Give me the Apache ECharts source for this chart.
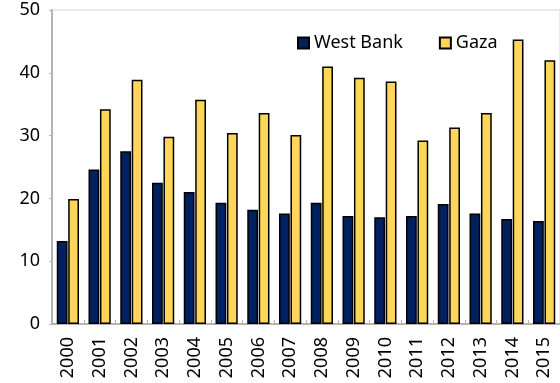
<!DOCTYPE html>
<html>
<head>
<meta charset="utf-8">
<script src="https://cdn.jsdelivr.net/npm/echarts@6/dist/echarts.min.js"></script>
<style>
  html, body { margin: 0; padding: 0; background: #fff; }
  #chart { width: 560px; height: 383px; }
</style>
</head>
<body>
<div id="chart"></div>
<script>
  // years on the x axis
  const years = ['2000', '2001', '2002', '2003', '2004', '2005', '2006', '2007',
    '2008', '2009', '2010', '2011', '2012', '2013', '2014', '2015'];
  // values
  const westBank = [13.2, 24.6, 27.5, 22.5, 21.0, 19.3, 18.2, 17.6,
    19.3, 17.2, 17.0, 17.2, 19.1, 17.6, 16.7, 16.4];
  const gaza = [19.9, 34.2, 38.9, 29.8, 35.7, 30.4, 33.6, 30.1,
    41.0, 39.2, 38.6, 29.2, 31.3, 33.6, 45.3, 42.0];
  const yTicks = [0, 10, 20, 30, 40, 50];

  const font = 'Noto Sans';
  const chart = echarts.init(document.getElementById('chart'));
  chart.setOption({
    animation: false,
    textStyle: { fontFamily: font },
    grid: {
      left: 52, right: 0, top: 10, bottom: 59,
      show: true, borderColor: '#d4d4d4', borderWidth: 1
    },
    legend: {
      top: 29, left: 292,
      icon: 'rect',
      itemWidth: 11, itemHeight: 11, itemGap: 36,
      textStyle: { fontSize: 18, color: '#000', fontFamily: font },
      data: ['West Bank', 'Gaza']
    },
    xAxis: {
      type: 'category',
      data: years,
      axisLine: { lineStyle: { color: '#b4b4b4', width: 2 } },
      axisTick: { show: true, inside: true, length: 4, lineStyle: { color: '#b4b4b4' } },
      axisLabel: { rotate: 90, fontSize: 18, color: '#000', margin: 13, fontFamily: font }
    },
    yAxis: {
      type: 'value',
      min: yTicks[0], max: yTicks[yTicks.length - 1], interval: 10,
      axisLine: { show: true, lineStyle: { color: '#b4b4b4', width: 2 } },
      axisTick: { show: true, length: 3, lineStyle: { color: '#b4b4b4' } },
      splitLine: { show: false },
      axisLabel: { fontSize: 18, color: '#000', margin: 12, fontFamily: font }
    },
    series: [
      {
        name: 'West Bank', type: 'bar', data: westBank,
        barWidth: '34%', barGap: '6%',
        itemStyle: { color: '#002060', borderColor: '#000', borderWidth: 1.5 }
      },
      {
        name: 'Gaza', type: 'bar', data: gaza,
        barWidth: '34%',
        itemStyle: { color: '#ffd55a', borderColor: '#000', borderWidth: 1.5 }
      }
    ]
  });
</script>
</body>
</html>
